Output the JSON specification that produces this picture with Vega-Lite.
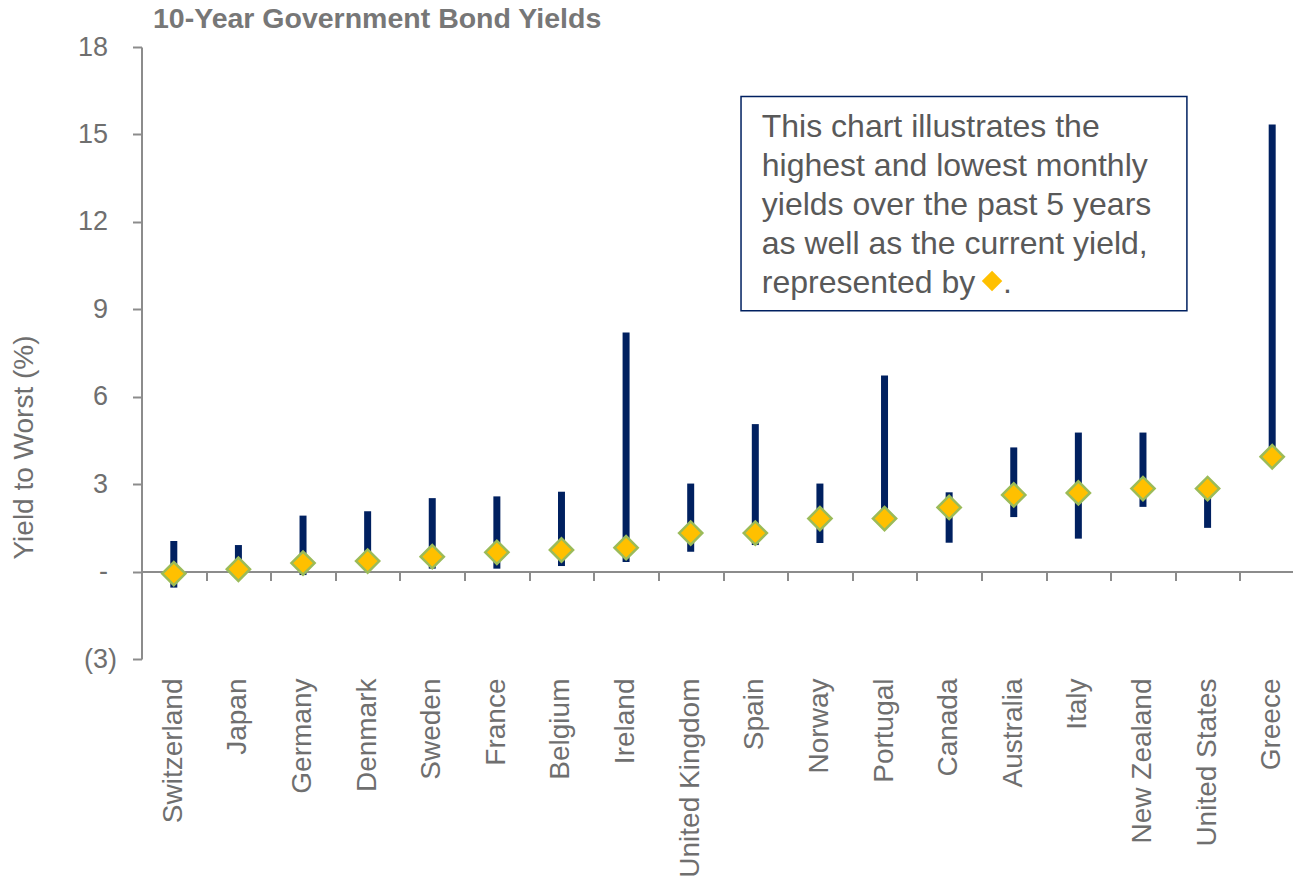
{
  "$schema": "https://vega.github.io/schema/vega-lite/v6.json",
  "autosize": {"type": "none"},
  "padding": {"left": 141.5, "top": 47, "right": 0, "bottom": 219},
  "width": 1151.5,
  "height": 612,
  "background": "white",
  "config": {
    "view": {"stroke": null},
    "font": "Liberation Sans"
  },
  "title": {
    "text": "10-Year Government Bond Yields",
    "anchor": "start",
    "frame": "group",
    "dx": 11.5,
    "dy": 40,
    "fontSize": 28.5,
    "fontWeight": "bold",
    "color": "#777777",
    "font": "Liberation Sans",
    "baseline": "alphabetic",
    "offset": 17
  },
  "data": {
    "values": [
      {"country": "Switzerland", "low": -0.55, "high": 1.05, "current": -0.07},
      {"country": "Japan", "low": -0.2, "high": 0.91, "current": 0.08},
      {"country": "Germany", "low": -0.12, "high": 1.92, "current": 0.29},
      {"country": "Denmark", "low": 0.05, "high": 2.07, "current": 0.36},
      {"country": "Sweden", "low": 0.1, "high": 2.52, "current": 0.51},
      {"country": "France", "low": 0.1, "high": 2.58, "current": 0.66},
      {"country": "Belgium", "low": 0.19, "high": 2.74, "current": 0.74},
      {"country": "Ireland", "low": 0.33, "high": 8.2, "current": 0.82},
      {"country": "United Kingdom", "low": 0.68, "high": 3.02, "current": 1.32},
      {"country": "Spain", "low": 0.91, "high": 5.06, "current": 1.32},
      {"country": "Norway", "low": 0.98, "high": 3.02, "current": 1.82},
      {"country": "Portugal", "low": 1.6, "high": 6.73, "current": 1.82},
      {"country": "Canada", "low": 0.99, "high": 2.72, "current": 2.2},
      {"country": "Australia", "low": 1.87, "high": 4.26, "current": 2.63},
      {"country": "Italy", "low": 1.13, "high": 4.77, "current": 2.7},
      {"country": "New Zealand", "low": 2.22, "high": 4.77, "current": 2.85},
      {"country": "United States", "low": 1.5, "high": 3.05, "current": 2.85},
      {"country": "Greece", "low": 3.8, "high": 15.34, "current": 3.94}
    ]
  },
  "resolve": {"axis": {"x": "independent", "y": "independent"}},
  "layer": [
    {
      "mark": {"type": "bar", "size": 7, "color": "#002060"},
      "encoding": {
        "x": {
          "field": "country",
          "type": "nominal",
          "sort": null,
          "scale": {"range": [0, 1163], "paddingInner": 0, "paddingOuter": 0},
          "axis": {
            "orient": "bottom",
            "title": null,
            "domain": false,
            "ticks": false,
            "tickSize": 0,
            "labelAngle": -90,
            "labelAlign": "right",
            "labelBaseline": "middle",
            "labelPadding": 19,
            "labelFontSize": 28,
            "labelLimit": 500,
            "labelColor": "#6f6f6f",
            "labelFont": "Liberation Sans",
            "grid": false
          }
        },
        "y": {
          "field": "low",
          "type": "quantitative",
          "scale": {"domain": [-3, 18], "nice": false, "zero": false},
          "axis": {
            "orient": "left",
            "title": "Yield to Worst (%)",
            "titleFontSize": 28,
            "titleFontWeight": "normal",
            "titleColor": "#6f6f6f",
            "titleFont": "Liberation Sans",
            "titleX": -117.5,
            "titleY": 400,
            "titleAngle": -90,
            "titleAlign": "center",
            "titleBaseline": "middle",
            "values": [-3, 0, 3, 6, 9, 12, 15, 18],
            "labelExpr": "datum.value < 0 ? '(' + abs(datum.value) + ')' : (datum.value == 0 ? '-' : datum.value + '')",
            "labelFontSize": 27,
            "labelColor": "#6f6f6f",
            "labelFont": "Liberation Sans",
            "labelPadding": {"condition": {"test": "datum.value < 0", "value": 16}, "value": 25},
            "tickSize": 9,
            "tickWidth": 2,
            "tickColor": "#8c8c8c",
            "domainColor": "#8c8c8c",
            "domainWidth": 2,
            "grid": false
          }
        },
        "y2": {"field": "high"}
      }
    },
    {
      "mark": {"type": "point", "shape": "diamond", "filled": true, "fill": "#FFC000", "stroke": "#9BBB59", "strokeWidth": 2.5, "opacity": 1, "size": 540},
      "encoding": {
        "x": {
          "field": "country",
          "type": "nominal",
          "sort": null,
          "axis": {
            "orient": "bottom",
            "title": null,
            "labels": false,
            "offset": -87.43,
            "domain": true,
            "domainColor": "#8c8c8c",
            "domainWidth": 2,
            "ticks": true,
            "tickBand": "extent",
            "tickSize": 9,
            "tickWidth": 2,
            "tickColor": "#8c8c8c",
            "grid": false
          }
        },
        "y": {"field": "current", "type": "quantitative", "axis": null}
      }
    },
    {
      "data": {"values": [{}]},
      "mark": {"type": "rect", "fill": "white", "stroke": "#002060", "strokeWidth": 1.5},
      "encoding": {
        "x": {"datum": "Spain", "type": "nominal", "bandPosition": 0.279, "axis": null},
        "x2": {"datum": "United States", "bandPosition": 0.18},
        "y": {"datum": 16.3, "type": "quantitative", "axis": null},
        "y2": {"datum": 8.95}
      }
    },
    {
      "data": {"values": [{}]},
      "mark": {
        "type": "text",
        "align": "left",
        "baseline": "alphabetic",
        "fontSize": 32,
        "lineHeight": 39,
        "fill": "#595959",
        "font": "Liberation Sans",
        "fontWeight": "normal",
        "text": ["This chart illustrates the", "highest and lowest monthly", "yields over the past 5 years", "as well as the current yield,", "represented by"]
      },
      "encoding": {
        "x": {"datum": "Spain", "type": "nominal", "bandPosition": 0.6, "axis": null},
        "y": {"datum": 14.92, "type": "quantitative", "axis": null}
      }
    },
    {
      "data": {"values": [{}]},
      "mark": {"type": "point", "shape": "diamond", "filled": true, "fill": "#FFC000", "strokeWidth": 0, "opacity": 1, "size": 420},
      "encoding": {
        "x": {"datum": "Australia", "type": "nominal", "bandPosition": 0.164, "axis": null},
        "y": {"datum": 9.97, "type": "quantitative", "axis": null}
      }
    },
    {
      "data": {"values": [{}]},
      "mark": {"type": "text", "align": "left", "baseline": "alphabetic", "fontSize": 32, "fill": "#595959", "font": "Liberation Sans", "text": "."},
      "encoding": {
        "x": {"datum": "Australia", "type": "nominal", "bandPosition": 0.334, "axis": null},
        "y": {"datum": 9.57, "type": "quantitative", "axis": null}
      }
    }
  ]
}
